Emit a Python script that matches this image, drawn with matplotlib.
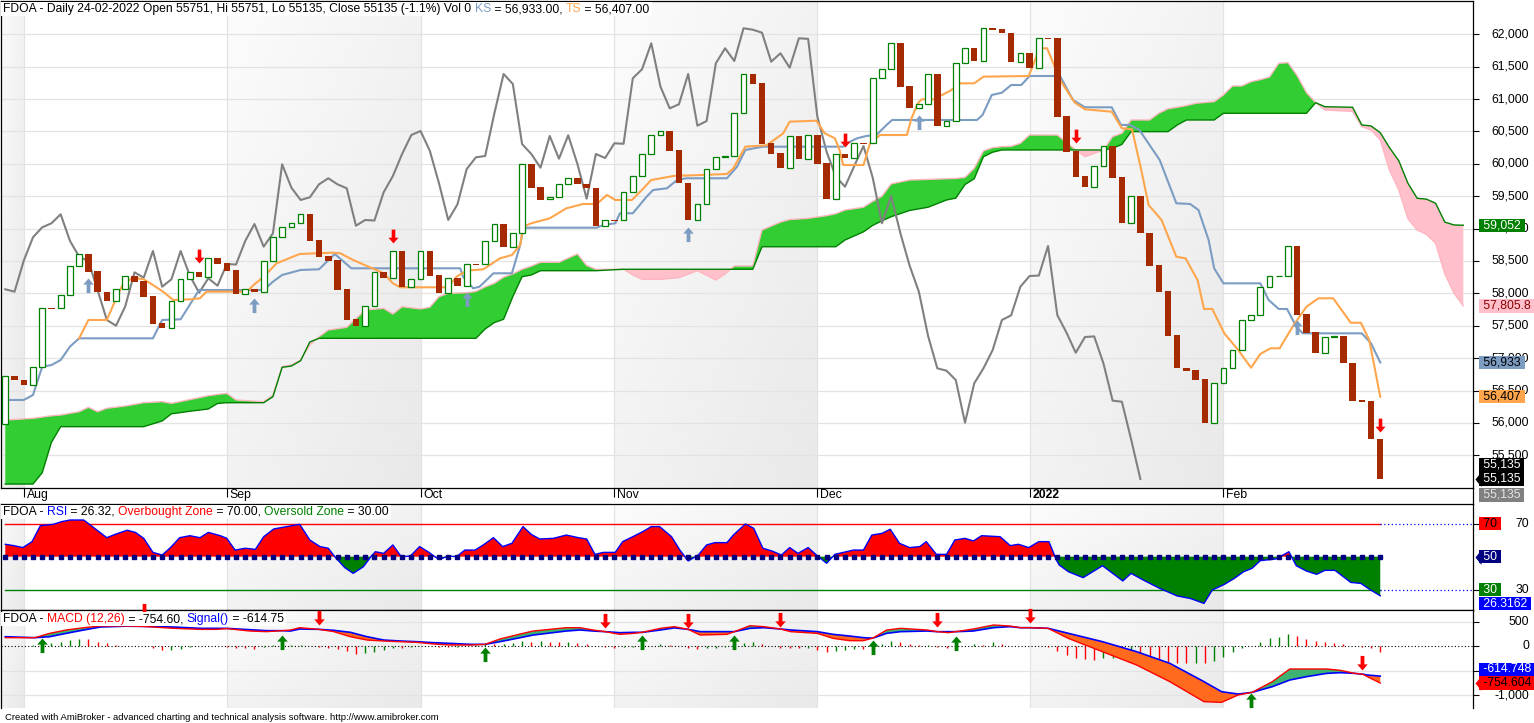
import numpy as np
import matplotlib
matplotlib.use("Agg")
import matplotlib.pyplot as plt
import matplotlib.transforms as mtransforms
from matplotlib.colors import LinearSegmentedColormap
from matplotlib.lines import Line2D
from matplotlib.patches import Rectangle
from matplotlib.path import Path

plt.rcParams["font.family"] = ["Liberation Sans", "DejaVu Sans"]

# ---------------- values ----------------
month_labels = ["Aug", "Sep", "Oct", "Nov", "Dec", "2022", "Feb"]
month_bars = [2, 24, 45, 66, 88, 111, 132]
shaded_months = [(-1, 2), (24, 45), (66, 88), (111, 132)]

opens = [
    55978, 56724, 56658, 56581, 56863, 57775, 57769, 57970, 58418, 58603,
    58341, 58026, 57887, 58063, 58268, 58196, 57959, 57543, 57470, 57878,
    58217, 58325, 58257, 58541, 58464, 58361, 57986, 58067, 58026, 58504,
    58866, 59020, 59082, 59221, 58824, 58582, 58515, 58067, 57604, 57501,
    57800, 58325, 58242, 58654, 58103, 58217, 58654, 58284, 58010, 58233,
    58118, 58460, 58453, 58809, 59071, 58721, 58927, 59993, 59638, 59452,
    59483, 59684, 59777, 59684, 59622, 59045, 59140, 59133, 59560, 59812,
    60152, 60445, 60507, 60214, 59709, 59133, 59375, 59920, 60101, 60121,
    60780, 61387, 61253, 60317, 60167, 59940, 60430, 60079, 60441, 60013,
    59462, 60152, 60090, 60325, 60317, 61321, 61460, 61861, 61202, 60857,
    60919, 61387, 60589, 60661, 61552, 61784, 61588, 62093, 62082, 62025,
    61577, 61707, 61484, 61945, 61938, 60739, 60198, 59812, 59647, 59967,
    60275, 59797, 59082, 59503, 58937, 58443, 58037, 57353, 56852, 56817,
    56678, 56003, 56611, 56843, 57126, 57589, 57661, 58103, 58265, 58268,
    58731, 57677, 57403, 57084, 57326, 57342, 56929, 56354, 56343, 55751,
]
closes = [
    56724, 56658, 56581, 56863, 57769, 57760, 57970, 58418, 58603, 58335,
    58026, 57887, 58063, 58268, 58180, 57949, 57532, 57470, 57878, 58217,
    58325, 58257, 58541, 58458, 58350, 57986, 58063, 58026, 58504, 58866,
    59020, 59082, 59221, 58813, 58566, 58500, 58052, 57589, 57501, 57800,
    58325, 58242, 58654, 58103, 58217, 58654, 58273, 58010, 58233, 58118,
    58453, 58445, 58809, 59071, 58721, 58927, 59993, 59632, 59442, 59483,
    59684, 59777, 59684, 59622, 59045, 59133, 59125, 59560, 59812, 60152,
    60445, 60507, 60203, 59699, 59133, 59375, 59920, 60101, 60121, 60780,
    61387, 61233, 60306, 60152, 59940, 60430, 60079, 60441, 59997, 59462,
    60152, 60090, 60317, 60310, 61321, 61460, 61861, 61191, 60857, 60919,
    61387, 60589, 60661, 61552, 61784, 61588, 62093, 62071, 62025, 61577,
    61707, 61484, 61938, 61930, 60728, 60187, 59801, 59647, 59967, 60275,
    59786, 59082, 59503, 58927, 58427, 58026, 57342, 56843, 56806, 56662,
    56003, 56611, 56843, 57126, 57589, 57661, 58103, 58268, 58275, 58731,
    57666, 57393, 57084, 57326, 57336, 56920, 56343, 56327, 55747, 55135,
]
chikou_shift = 26

# Tenkan-sen (TS) and Kijun-sen (KS) vertices
ts_x = [8, 9, 11, 12.1, 12.8, 13.9, 15, 16, 17.1, 18.2, 20, 21.1, 21.8, 26.2, 26.9, 28, 29.4,
        31.9, 35.5, 36.3, 37.7, 41, 42, 42.8, 48, 48.9, 50, 51.8, 53.6, 54.9, 55.8, 56.1, 57,
        59, 60.8, 62.6, 64.1, 65.2, 66.1, 67.9, 68.8, 70, 72.4, 78.2, 78.9, 80.2, 82.5, 84.3,
        85, 87.9, 88.8, 89.9, 90.4, 90.8, 93, 93.7, 94.8, 97.7, 98.2, 98.9, 99.3, 100.6, 102.4,
        103.5, 105, 106, 110.9, 112.1, 112.9, 114.3, 115.9, 117, 119.9, 121, 122.1, 123.1,
        123.9, 125.3, 126.9, 127.9, 129.2, 129.9, 130.8, 132.1, 133.6, 135, 136, 137.1, 138.1,
        139.5, 141, 142.3, 143.9, 145.8, 146.9, 147.8, 148.3, 149]
ts_y = [57306, 57589, 57589, 57949, 58155, 58242, 58217, 58129, 58026, 57898, 57908, 57924,
        58026, 58026, 58129, 58257, 58464, 58608, 58628, 58619, 58515, 58310, 58155, 58094,
        58094, 58257, 58350, 58372, 58541, 58592, 58747, 59029, 59082, 59159, 59313, 59380,
        59380, 59519, 59442, 59442, 59570, 59750, 59812, 59843, 59931, 60265, 60286, 60471,
        60651, 60666, 60471, 60394, 60214, 59982, 59982, 60317, 60445, 60445, 60703, 60935,
        60996, 60996, 61129, 61243, 61243, 61346, 61356, 61784, 61784, 61294, 60944, 60842,
        60805, 60549, 60533, 59905, 59364, 59133, 58566, 58541, 58206, 57759, 57759, 57383,
        57126, 56852, 57064, 57152, 57152, 57485, 57794, 57924, 57924, 57547, 57547, 57280,
        56920, 56404]
ks_x = [0, 2, 3, 4, 5, 6, 7, 8, 16, 17, 19, 21, 28, 29, 30, 32, 34, 35.7, 37.5, 49.3, 49.6,
        50.7, 51.4, 52.9, 54.9, 55.8, 56.1, 56.5, 64.1, 64.8, 66.1, 66.6, 68, 69.5, 70.2, 71.7,
        72.8, 73.8, 78.2, 79.3, 80.2, 82.1, 90.8, 91.2, 92.3, 93.3, 94.4, 95.5, 96.1, 105.3,
        105.9, 106.9, 108, 109, 110.1, 111, 114.3, 115.7, 117, 119.9, 120.9, 121.9, 122.9,
        125.1, 126.9, 128.4, 129.3, 130.4, 131, 132, 136, 136.9, 138, 138.9, 139.9, 140.6,
        147, 148, 149]
ks_y = [56354, 56354, 56431, 56868, 56894, 56971, 57177, 57306, 57306, 57589, 57600, 58052,
        58052, 58180, 58284, 58361, 58372, 58608, 58387, 58387, 58258, 58078, 58103, 58310,
        58310, 58747, 58978, 59014, 59014, 59056, 59082, 59236, 59236, 59493, 59596, 59622,
        59750, 59777, 59777, 59956, 60214, 60265, 60265, 60317, 60394, 60430, 60445, 60600,
        60677, 60677, 60754, 61063, 61098, 61217, 61217, 61356, 61356, 60986, 60873, 60873,
        60600, 60600, 60522, 60059, 59391, 59380, 59287, 58824, 58387, 58155, 58155, 57898,
        57759, 57759, 57485, 57383, 57383, 57229, 56933]

# Senkou spans (cloud), shifted forward
span_x = [0, 3, 4, 5, 6, 8, 9, 10, 11, 13, 15, 17, 18, 20, 22, 23, 24, 25, 28, 29, 30, 31, 32,
          33, 34, 35, 37, 39, 41, 42, 43, 45, 46, 47, 48, 50, 51, 52, 53, 54, 55, 56, 57, 58,
          60, 62, 63, 64, 67, 68, 69, 71, 73, 75, 77, 78, 79, 81, 82, 84, 85, 87, 89, 90, 91,
          93, 94, 95, 96, 98, 100, 102, 103, 104, 105, 106, 107, 108, 109, 110, 111, 114, 115,
          116, 117, 118, 119, 120, 121, 122, 124, 125, 126, 127, 128, 129, 131, 132, 133, 134,
          135, 136, 137, 138, 139, 140, 141, 142, 143, 146, 147, 148, 149, 150, 151, 152, 153,
          154, 155, 156, 157, 158]
span_a = [56045, 56071, 56090, 56110, 56122, 56173, 56241, 56173, 56226, 56261, 56312, 56328,
          56302, 56360, 56420, 56440, 56457, 56354, 56328, 56431, 56868, 56894, 56971, 57203,
          57330, 57434, 57476, 57743, 57769, 57681, 57794, 57760, 57785, 57949, 58001, 58010,
          58030, 58100, 58155, 58250, 58300, 58372, 58420, 58480, 58480, 58608, 58430, 58372,
          58372, 58284, 58217, 58217, 58242, 58350, 58206, 58300, 58423, 58423, 58978, 59100,
          59140, 59159, 59200, 59230, 59287, 59330, 59420, 59500, 59690, 59750, 59760, 59770,
          59775, 59790, 59930, 60200, 60250, 60265, 60270, 60317, 60445, 60445, 60330, 60214,
          60110, 60160, 60214, 60420, 60471, 60677, 60677, 60780, 60850, 60873, 60900, 60935,
          60960, 61063, 61202, 61202, 61268, 61300, 61340, 61552, 61562, 61360, 61100, 60944,
          60830, 60810, 60574, 60522, 60368, 59900, 59600, 59150, 58978, 58910, 58773, 58300,
          58000, 57806]
span_b = [55056, 55056, 55230, 55700, 55942, 55942, 55942, 55942, 55942, 55942, 55942, 56030,
          56140, 56180, 56215, 56300, 56312, 56312, 56312, 56404, 56858, 56878, 56960, 57250,
          57306, 57306, 57306, 57306, 57306, 57306, 57306, 57306, 57306, 57306, 57306, 57306,
          57306, 57450, 57550, 57600, 57950, 58257, 58284, 58350, 58350, 58350, 58350, 58350,
          58372, 58372, 58372, 58372, 58372, 58372, 58372, 58372, 58372, 58372, 58720, 58720,
          58720, 58720, 58720, 58720, 58824, 58950, 59050, 59120, 59184, 59280, 59330, 59442,
          59470, 59680, 59770, 60110, 60180, 60214, 60214, 60214, 60214, 60214, 60214, 60214,
          60214, 60214, 60214, 60240, 60300, 60497, 60497, 60497, 60497, 60600, 60677, 60677,
          60677, 60780, 60780, 60780, 60780, 60780, 60780, 60780, 60780, 60780, 60780, 60944,
          60882, 60873, 60600, 60585, 60481, 60250, 60050, 59700, 59468, 59455, 59391, 59100,
          59056, 59052]

sell_x = [21, 42, 91, 116, 149]
sell_y = [58464, 58773, 60265, 60317, 55864]
buy_x = [9, 27, 50, 74, 99, 140]
buy_y = [58233, 57924, 58026, 59029, 60754, 57589]

rsi_x = [0, 0.9, 1.9, 2.9, 3.8, 5.2, 6.1, 7, 8.5, 9.9, 11, 11.9, 13.2, 14.1, 15, 16, 17, 17.9,
         18.9, 20, 21.1, 22, 23.3, 24, 24.9, 26, 27.1, 28, 29.1, 30.1, 31.9, 33, 34.1, 35,
         35.7, 36.8, 37.7, 38.8, 39.7, 40.1, 41, 42, 42.9, 43.9, 44.9, 45.8, 46.7, 47.1, 48,
         48.9, 49.8, 50.9, 51.8, 52.9, 53.9, 54.9, 56.1, 57, 57.9, 59.4, 60.8, 62.1, 63, 63.9,
         64.8, 66.1, 66.9, 68, 69.1, 70, 70.9, 72.2, 73.1, 74, 75.1, 76, 76.9, 78.2, 78.9,
         80.2, 81.1, 82.1, 83.1, 84.1, 85, 85.9, 87, 87.9, 89, 89.9, 91.9, 93, 93.9, 95, 95.9,
         96.9, 98, 99.1, 99.8, 100.9, 102, 102.9, 104, 104.9, 105.8, 107.8, 108.9, 109.8,
         110.9, 112, 113.1, 113.9, 114.2, 115.2, 116.8, 118.9, 121.1, 122, 123.3, 125.1, 127,
         128.4, 129.9, 130.8, 132.1, 133.2, 134.2, 135.1, 136, 137.7, 139.1, 139.9, 141,
         142.1, 143, 144.1, 145.8, 146.9, 147.8, 149]
rsi_v = [57.5, 56.7, 55.5, 59.1, 68.8, 69.6, 71.2, 72.2, 72.2, 66.2, 61.5, 63.5, 66, 64.7,
         61.1, 52.6, 51, 55.5, 61.5, 62.7, 61.5, 64.7, 62.7, 61.1, 54, 55.1, 54.4, 62.1, 66.8,
         67.8, 69.6, 60.1, 56.1, 55.1, 50, 43.3, 39.9, 43.9, 50.6, 53, 52, 57.1, 50, 50.4,
         56.1, 53, 49.4, 48.4, 50.4, 50, 54, 54, 57.1, 61.5, 56.1, 58.1, 68.2, 63.5, 60.7,
         61.1, 63.1, 61.5, 60.7, 51.4, 52.6, 52.6, 59.1, 62.1, 65.2, 68.2, 68.2, 62.1, 54,
         47.4, 51, 57.1, 58.5, 58.5, 63.1, 69.8, 67.2, 55.1, 53.4, 51, 55.5, 52, 55.5, 51, 46,
         51.4, 54, 54, 63.1, 64.1, 66.6, 58.1, 55.5, 56.1, 59.1, 51.4, 51.4, 60.1, 61.1, 59.5,
         62.7, 62.1, 56.7, 57.5, 55.5, 59.1, 59.1, 48, 45, 40.9, 37.3, 44.5, 35.3, 39.9, 35.9,
         30.8, 26.2, 24.7, 21.7, 29.8, 33.2, 36.9, 40.9, 42.9, 47.6, 48.6, 53, 44.5, 41.3,
         39.3, 41.7, 41.7, 34.4, 33.8, 30.4, 26.3]
rsi_overbought, rsi_mid, rsi_oversold = 70, 50, 30

macd_x = [0, 3.2, 4.8, 6.6, 8.5, 10.3, 13, 15, 18.2, 21.1, 22.9, 24, 26.5, 28.3, 30, 30.9,
          31.9, 34, 35.6, 37.4, 39.2, 41, 42.8, 44.6, 46.4, 48.2, 50.4, 52, 53.6, 55.8, 57.2,
          60.8, 62.3, 63.7, 65, 66.6, 68.1, 69, 71, 72.5, 74, 75.3, 78.2, 79, 80.7, 82.2, 84,
          85.1, 88, 89.7, 91.5, 93, 94, 95.5, 97, 99.9, 101, 102.2, 103, 104.9, 107.1, 108.9,
          110, 111, 113, 115.2, 118.9, 122.6, 126.2, 129.9, 131.8, 133.6, 135.1, 137.3, 139.2,
          141, 143.2, 144.7, 146.2, 147.1, 147.6, 149]
macd_v = [170, 170, 258, 327, 374, 408, 410, 400, 361, 340, 340, 355, 306, 293, 313, 327, 374,
          340, 293, 190, 122, 102, 88, 75, 41, 20, 20, 34, 143, 245, 306, 374, 374, 327, 293,
          238, 258, 279, 361, 395, 340, 224, 238, 293, 415, 395, 347, 293, 258, 156, 109, 109,
          160, 326, 361, 327, 293, 272, 293, 347, 429, 408, 374, 374, 361, 156, -116, -388,
          -728, -1136, -1150, -1000, -946, -728, -469, -469, -469, -497, -558, -575, -626,
          -755]
signal_v = [190, 170, 190, 258, 327, 388, 405, 400, 388, 361, 361, 360, 333, 313, 313, 306,
            347, 340, 320, 279, 190, 122, 102, 88, 68, 54, 34, 34, 88, 170, 224, 306, 327, 306,
            293, 272, 279, 279, 327, 370, 340, 293, 293, 293, 361, 374, 347, 327, 293, 238,
            204, 170, 160, 258, 293, 306, 293, 293, 293, 306, 374, 395, 374, 374, 361, 259, 88,
            -116, -354, -728, -932, -980, -946, -830, -694, -626, -558, -544, -558, -575,
            -592, -615]
macd_hist = [5, 8, 10, 15, 25, 54, 88, 122, 143, 140,
             90, 54, 25, 10, 5, -5, -40, -90, -80, -60,
             -10, 10, 5, 0, -30, -45, -48, -60, -10, 15,
             20, 25, 30, 5, -20, -35, -60, -100, -170, -150,
             -115, -80, -48, -50, -20, -5, -5, -15, -20, -10,
             10, 25, 34, 34, 36, 54, 100, 88, 100, 90,
             75, 80, 55, 34, 5, -20, -48, -20, -15, 5,
             7, 34, 30, -5, -48, -65, -48, -35, -30, 10,
             68, 88, 34, 5, -34, -34, -48, -40, -82, -116,
             -100, -82, -61, -61, 10, 34, 100, 88, 34, 20,
             30, -15, -34, 10, 7, 34, 30, 75, 34, 7,
             10, 5, 3, -10, -102, -184, -238, -265, -286, -252,
             -245, -250, -238, -245, -265, -306, -354, -355, -356, -350,
             -354, -299, -218, -129, -34, 0, 88, 156, 190, 245,
             204, 143, 109, 88, 68, 34, 10, -20, -34, -129]
macd_buy_x = [4, 30, 52, 69, 79, 94, 103, 135]
macd_buy_v = [156, 224, -14, 224, 224, 122, 211, -966]
macd_sell_x = [15, 34, 65, 74, 84, 101, 111, 147]
macd_sell_v = [571, 429, 374, 374, 395, 395, 463, -490]

price_ticks = [55500, 56000, 56500, 57000, 57500, 58000, 58500, 59000, 59500, 60000, 60500,
               61000, 61500, 62000]
macd_grid = [500, -500, -1000]
macd_ticks = [500, 0, -1000]

main_title = [("FDOA - Daily 24-02-2022 Open 55751, Hi 55751, Lo 55135, Close 55135 (-1.1%) Vol 0 ", "black"),
              ("KS", "#7c9cc2"), (" = 56,933.00, ", "black"), ("TS", "#ffa64d"), (" = 56,407.00", "black")]
rsi_title = [("FDOA - ", "black"), ("RSI", "#0000ff"), (" = 26.32, ", "black"),
             ("Overbought Zone", "#ff0000"), (" = 70.00, ", "black"),
             ("Oversold Zone", "#008000"), (" = 30.00", "black")]
macd_title = [("FDOA - ", "black"), ("MACD (12,26)", "#ff0000"), (" = -754.60, ", "black"),
              ("Signal()", "#0000ff"), (" = -614.75", "black")]
footer = "Created with AmiBroker - advanced charting and technical analysis software. http://www.amibroker.com"

# ---------------- figure layout ----------------
W, H = 1534, 723
fig = plt.figure(figsize=(W / 100, H / 100), dpi=100)


def add_pane(top, bottom):
    return fig.add_axes([1 / W, 1 - bottom / H, 1472 / W, (bottom - top) / H])


ax = add_pane(1, 488)
ax_rsi = add_pane(504, 610)
ax_macd = add_pane(610, 708)

X_LO, X_HI = -0.466, 159.05
PRICE_LIM = (54995, 62514)
RSI_LIM = (17.7, 81.9)
MACD_LIM = (-1265, 735)

shade_cmap = LinearSegmentedColormap.from_list("shade", ["#fcfcfc", "#e9e9e9"])
g = np.linspace(0, 1, 64)
grad = (g[:, None] + g[None, :]) / 2


def setup(a, lim):
    for x0, x1 in shaded_months:
        a.imshow(grad, extent=(x0, x1, lim[0], lim[1]), aspect="auto", cmap=shade_cmap,
                 vmin=0, vmax=1, origin="upper", interpolation="bilinear", zorder=0)
    for m in month_bars:
        a.axvline(m, color="#e3e3e3", lw=0.9, zorder=0.5)
    a.set_xlim(X_LO, X_HI)
    a.set_ylim(*lim)
    a.set_xticks([])
    a.yaxis.tick_right()
    a.tick_params(axis="y", length=4, width=0.8, direction="out", labelright=False)
    for s in a.spines.values():
        s.set_color("black")
        s.set_linewidth(0.9)


title_rows = []


def colored_title(a, pieces, dy, fs=8.7):
    t = a.annotate(pieces[0][0], xy=(0, 1), xycoords="axes fraction", xytext=(2, dy),
                   textcoords="offset pixels", ha="left", va="bottom", color=pieces[0][1],
                   fontsize=fs, zorder=20, annotation_clip=False)
    row = [t]
    for s, c in pieces[1:]:
        t = a.annotate(s, xy=(1, 0), xycoords=t, ha="left", va="bottom", color=c, fontsize=fs,
                       zorder=20, annotation_clip=False)
        row.append(t)
    title_rows.append((a, row))


def right_label(a, val, text, fs=8.8):
    a.annotate(text, xy=(1, val), xycoords=("axes fraction", "data"), xytext=(56, 0),
               textcoords="offset pixels", ha="right", va="center", fontsize=fs,
               annotation_clip=False, zorder=6)


head = Path([(0, 0), (6, -7.5), (6, 7.5), (0, 0)], closed=True)


def value_box(a, val, text, fc, tc, dy=0, arrow=False, fs=8.8):
    a.annotate(" " + text + " ", xy=(1, val), xycoords=("axes fraction", "data"), xytext=(7, dy),
               textcoords="offset pixels", ha="left", va="center", fontsize=fs, color=tc,
               annotation_clip=False, zorder=8,
               bbox=dict(boxstyle="square,pad=0.05", fc=fc, ec="none"))
    if arrow:
        tr = mtransforms.blended_transform_factory(a.transAxes, a.transData)
        tr = mtransforms.offset_copy(tr, fig=fig, x=2, y=dy, units="dots")
        a.plot([1], [val], transform=tr, marker=head, ms=10.8, mfc=fc, mec="none",
               ls="none", clip_on=False, zorder=8)


up_arrow = Path([(0, 0), (0.36, -0.42), (0.13, -0.42), (0.13, -1), (-0.13, -1),
                 (-0.13, -0.42), (-0.36, -0.42), (0, 0)], closed=True)
down_arrow = Path([(x, -y) for x, y in up_arrow.vertices], closed=True)

# ---------------- main price pane ----------------
setup(ax, PRICE_LIM)
ax.set_yticks(price_ticks)
for p in price_ticks:
    ax.axhline(p, color="#e3e3e3", lw=0.9, zorder=0.5)
    right_label(ax, p, f"{p:,}")

sx, sa, sb = np.array(span_x), np.array(span_a), np.array(span_b)
ax.fill_between(sx, sa, sb, where=sa >= sb, interpolate=True, color="#32cd32", lw=0, zorder=1)
ax.fill_between(sx, sa, sb, where=sa < sb, interpolate=True, color="#ffc0cb", lw=0, zorder=1)
ax.plot(sx, sa, color="#ffb6c1", lw=1, zorder=1.5)
ax.plot(sx, sb, color="#008000", lw=1, zorder=1.6)

o, c = np.array(opens), np.array(closes)
bars = np.arange(len(o))
ax.plot(bars[:-chikou_shift], c[chikou_shift:], color="#808080", lw=1.5, zorder=2)
ax.plot(ks_x, ks_y, color="#7c9cc2", lw=1.5, zorder=2.5)
ax.plot(ts_x, ts_y, color="#ffa64d", lw=1.5, zorder=2.6)

up = c >= o
ax.bar(bars[up], (c - o)[up], bottom=o[up], width=0.62, facecolor="white",
       edgecolor="#008000", linewidth=0.9, zorder=3)
ax.bar(bars[~up], (o - c)[~up], bottom=c[~up], width=0.7, color="#a52a00", linewidth=0,
       zorder=3)

ax.plot(sell_x, sell_y, ls="none", marker=down_arrow, ms=20, mfc="#ff0000", mec="none", zorder=4)
ax.plot(buy_x, buy_y, ls="none", marker=up_arrow, ms=21, mfc="#7c9cc2", mec="none", zorder=4)

ax.set_xticks(month_bars)
ax.tick_params(axis="x", length=6.5, width=0.8, direction="out", labelbottom=False)
for m, lab in zip(month_bars, month_labels):
    ax.annotate(lab, xy=(m, 0), xycoords=("data", "axes fraction"), xytext=(3, -1),
                textcoords="offset pixels", ha="left", va="top", fontsize=8.8,
                fontweight="bold" if lab == "2022" else "normal", annotation_clip=False)

value_box(ax, span_b[-1], "59,052", "#008000", "white")
value_box(ax, span_a[-1], "57,805.8", "#ffc0cb", "#8b0000")
value_box(ax, ks_y[-1], "56,933", "#7c9cc2", "black")
value_box(ax, ts_y[-1], "56,407", "#ffa64d", "black")
value_box(ax, closes[-1], "55,135", "black", "white", dy=14)
value_box(ax, closes[-1], "55,135", "black", "white", arrow=True)
value_box(ax, closes[-1], "55,135", "#808080", "#e6e6e6", dy=-16)
colored_title(ax, main_title, -14)

# ---------------- RSI pane ----------------
setup(ax_rsi, RSI_LIM)
ax_rsi.set_yticks([rsi_overbought, rsi_oversold])
rx, rv = np.array(rsi_x), np.array(rsi_v)
ax_rsi.fill_between(rx, rv, rsi_mid, where=rv >= rsi_mid, interpolate=True, color="#ff0000",
                    lw=0, zorder=1)
ax_rsi.fill_between(rx, rv, rsi_mid, where=rv < rsi_mid, interpolate=True, color="#008000",
                    lw=0, zorder=1)
ax_rsi.plot(rx, rv, color="#0000ff", lw=1, zorder=2)
last = bars[-1]
ax_rsi.plot([0, last], [rsi_overbought] * 2, color="#ff0000", lw=1, zorder=1.5)
ax_rsi.plot([0, last], [rsi_oversold] * 2, color="#008000", lw=1, zorder=1.5)
for lvl in (rsi_overbought, rsi_oversold):
    ax_rsi.plot([last, X_HI], [lvl] * 2, color="#0000ff", lw=0.9, ls=(0, (1, 2)), zorder=1.5)
ax_rsi.plot(bars, [rsi_mid] * len(bars), ls="none", marker="s", ms=2.3, color="#000080",
            zorder=3)
for lvl in (rsi_overbought, rsi_oversold):
    right_label(ax_rsi, lvl, f"{lvl}")
value_box(ax_rsi, rsi_overbought, "70", "#ff0000", "black")
value_box(ax_rsi, rsi_mid, "50", "#000080", "white", arrow=True)
value_box(ax_rsi, rsi_oversold, "30", "#008000", "white")
value_box(ax_rsi, rsi_v[-1], "26.3162", "#0000ff", "white", dy=-8)
colored_title(ax_rsi, rsi_title, -14)

# ---------------- MACD pane ----------------
setup(ax_macd, MACD_LIM)
ax_macd.spines["bottom"].set_visible(False)
ax_macd.set_yticks(macd_grid + [0])
for v in macd_grid:
    ax_macd.axhline(v, color="#e3e3e3", lw=0.9, zorder=0.5)
ax_macd.axhline(0, color="black", lw=0.8, ls=(0, (1, 2)), zorder=1)
hist = np.array(macd_hist)
hcol = ["#008000" if k == 0 or hist[k] > hist[k - 1] else "#ff0000" for k in range(len(hist))]
ax_macd.vlines(bars, 0, hist, colors=hcol, lw=1, zorder=1.2)
mx, mv, sv = np.array(macd_x), np.array(macd_v), np.array(signal_v)
ax_macd.fill_between(mx, mv, sv, where=mv >= sv, interpolate=True, color="#3cb371", lw=0,
                     zorder=2)
ax_macd.fill_between(mx, mv, sv, where=mv < sv, interpolate=True, color="#ff6a1f", lw=0,
                     zorder=2)
ax_macd.plot(mx, sv, color="#0000ff", lw=1.2, zorder=2.5)
ax_macd.plot(mx, mv, color="#ff0000", lw=1, zorder=2.6)
ax_macd.plot(macd_buy_x, macd_buy_v, ls="none", marker=up_arrow, ms=21, mfc="#008000",
             mec="none", zorder=4, clip_on=False)
ax_macd.plot(macd_sell_x, macd_sell_v, ls="none", marker=down_arrow, ms=21, mfc="#ff0000",
             mec="none", zorder=4, clip_on=False)
for v in macd_ticks:
    right_label(ax_macd, v, f"{v:,}")
value_box(ax_macd, signal_v[-1], "-614.748", "#0000ff", "white", dy=7)
value_box(ax_macd, macd_v[-1], "-754.604", "#ff0000", "black", arrow=True)
colored_title(ax_macd, macd_title, -15)

# axis line through the date strip
fig.add_artist(Line2D([1473 / W, 1473 / W], [1 - 504 / H, 1 - 488 / H], color="black", lw=0.9))
fig.text(5 / W, 1 - 717 / H, footer, fontsize=6.8, va="center", ha="left")

# white backing behind each pane title, sized from the rendered text
fig.canvas.draw()
renderer = fig.canvas.get_renderer()
for a, row in title_rows:
    boxes = [t.get_window_extent(renderer) for t in row]
    x0 = min(b.x0 for b in boxes) - 2
    x1 = max(b.x1 for b in boxes) + 2
    y0 = min(b.y0 for b in boxes) - 1
    y1 = max(b.y1 for b in boxes) + 1
    a.add_patch(Rectangle((x0, y0), x1 - x0, y1 - y0, transform=mtransforms.IdentityTransform(),
                          facecolor="white", edgecolor="none", zorder=19, clip_on=False))

fig.savefig("out.png", dpi=100)
